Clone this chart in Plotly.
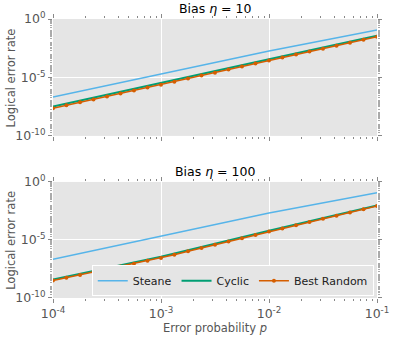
import plotly.graph_objects as go
from plotly.subplots import make_subplots

# error probabilities (decade points for the plain lines)
p_decades = [1e-4, 1e-3, 1e-2, 1e-1]

# grid used for the Best Random markers
p_grid = [1.00e-4, 1.33e-4, 1.78e-4, 2.37e-4, 3.16e-4, 4.22e-4, 5.62e-4, 7.50e-4,
          1.00e-3, 1.33e-3, 1.78e-3, 2.37e-3, 3.16e-3, 4.22e-3, 5.62e-3, 7.50e-3,
          1.00e-2, 1.33e-2, 1.78e-2, 2.37e-2, 3.16e-2, 4.22e-2, 5.62e-2, 7.50e-2,
          1.00e-1]

# bias eta = 10
steane_10 = [2.09e-7, 2.00e-5, 1.86e-3, 1.15e-1]
cyclic_10 = [3.24e-8, 3.16e-6, 3.55e-4, 3.72e-2]
random_10 = [2.34e-8, 4.17e-8, 7.41e-8, 1.32e-7, 2.34e-7, 4.27e-7, 7.59e-7, 1.35e-6,
             2.40e-6, 4.37e-6, 7.94e-6, 1.45e-5, 2.57e-5, 4.68e-5, 8.51e-5, 1.55e-4,
             2.82e-4, 5.01e-4, 9.12e-4, 1.62e-3, 2.88e-3, 5.25e-3, 9.33e-3, 1.70e-2,
             3.02e-2]

# bias eta = 100
steane_100 = [2.19e-7, 2.09e-5, 2.14e-3, 1.15e-1]
cyclic_100 = [3.98e-9, 3.55e-7, 6.31e-5, 9.55e-3]
random_100 = [3.16e-9, 5.50e-9, 9.77e-9, 1.70e-8, 2.95e-8, 5.25e-8, 9.12e-8, 1.62e-7,
              2.82e-7, 5.37e-7, 1.05e-6, 2.00e-6, 3.80e-6, 7.41e-6, 1.41e-5, 2.69e-5,
              5.25e-5, 9.77e-5, 1.86e-4, 3.47e-4, 6.61e-4, 1.23e-3, 2.34e-3, 4.37e-3,
              8.32e-3]

x_ticks = [1e-4, 1e-3, 1e-2, 1e-1]
x_labels = ["10<sup>-4</sup>", "10<sup>-3</sup>", "10<sup>-2</sup>", "10<sup>-1</sup>"]
y_ticks = [1e-10, 1e-5, 1e0]
y_labels = ["10<sup>-10</sup>", "10<sup>-5</sup>", "10<sup>0</sup>"]

c_steane = "#56B4E9"
c_cyclic = "#009E73"
c_random = "#D55E00"
grey = "#555555"

fig = make_subplots(rows=2, cols=1)

panels = [(1, steane_10, cyclic_10, random_10), (2, steane_100, cyclic_100, random_100)]
for row, st, cy, rn in panels:
    show = row == 2
    fig.add_trace(go.Scatter(x=p_decades, y=st, mode="lines", name="Steane",
                             line=dict(color=c_steane, width=1.5), showlegend=show),
                  row=row, col=1)
    fig.add_trace(go.Scatter(x=p_decades, y=cy, mode="lines", name="Cyclic",
                             line=dict(color=c_cyclic, width=2), showlegend=show),
                  row=row, col=1)
    fig.add_trace(go.Scatter(x=p_grid, y=rn, mode="lines+markers", name="Best Random",
                             line=dict(color=c_random, width=1.5),
                             marker=dict(size=4, color=c_random), showlegend=show),
                  row=row, col=1)

minor_x = [m * 10 ** e for e in range(-4, -1) for m in range(2, 10)]
minor_y = [m * 10.0 ** e for e in range(-10, 0) for m in range(1, 10)]

axis_common = dict(type="log", showline=False, ticks="outside", ticklen=4, tickcolor="#888888",
                   mirror="ticks", gridcolor="white", gridwidth=1, zeroline=False,
                   automargin=False,
                   tickfont=dict(family="DejaVu Sans", size=12.5, color=grey))

for row in (1, 2):
    fig.update_xaxes(range=[-4, -1], tickvals=x_ticks, ticktext=x_labels,
                     showticklabels=(row == 2),
                     minor=dict(tickvals=minor_x, ticks="outside", ticklen=2, tickcolor="#888888",
                                showgrid=False),
                     row=row, col=1, **axis_common)
    fig.update_yaxes(range=[-10, 0], tickvals=y_ticks, ticktext=y_labels,
                     minor=dict(tickvals=minor_y, ticks="outside", ticklen=2, tickcolor="#aaaaaa",
                                showgrid=False),
                     row=row, col=1, **axis_common)

fig.update_xaxes(title=dict(text="Error probability <i>p</i>", standoff=1,
                            font=dict(family="DejaVu Sans", size=11.5, color=grey)), row=2, col=1)

fig.update_layout(
    width=394, height=337,
    margin=dict(l=53, r=17, t=19, b=39),
    paper_bgcolor="white",
    plot_bgcolor="#E5E5E5",
    xaxis=dict(domain=[0, 1]),
    yaxis=dict(domain=[0.581, 1]),
    xaxis2=dict(domain=[0, 1]),
    yaxis2=dict(domain=[0, 0.416]),
    legend=dict(orientation="h", x=0.99, y=0.006, xanchor="right", yanchor="bottom",
                bgcolor="#E5E5E5", bordercolor="white", borderwidth=1,
                font=dict(family="DejaVu Sans", size=11, color="#222222"),
                itemwidth=30, tracegroupgap=0),
    font=dict(family="DejaVu Sans"),
    showlegend=True,
)

# y axis titles, one per panel
for yc in (0.7903, 0.208):
    fig.add_annotation(text="Logical error rate", x=-0.13, y=yc, xref="paper", yref="paper",
                       textangle=-90, showarrow=False, xanchor="center", yanchor="middle",
                       font=dict(family="DejaVu Sans", size=11.5, color=grey))

# panel titles
fig.add_annotation(text="Bias <i>η</i> = 10", x=0.5, y=1.0, xref="paper", yref="paper",
                   yanchor="bottom", showarrow=False, yshift=1,
                   font=dict(family="DejaVu Sans", size=12.5, color="black"))
fig.add_annotation(text="Bias <i>η</i> = 100", x=0.5, y=0.416, xref="paper", yref="paper",
                   yanchor="bottom", showarrow=False, yshift=1,
                   font=dict(family="DejaVu Sans", size=12.5, color="black"))

# the page body has a default 8px margin, drop it so the figure sits at the corner
fig.write_html("out.html", config={"displayModeBar": False},
               post_script="document.body.style.margin='0';")
